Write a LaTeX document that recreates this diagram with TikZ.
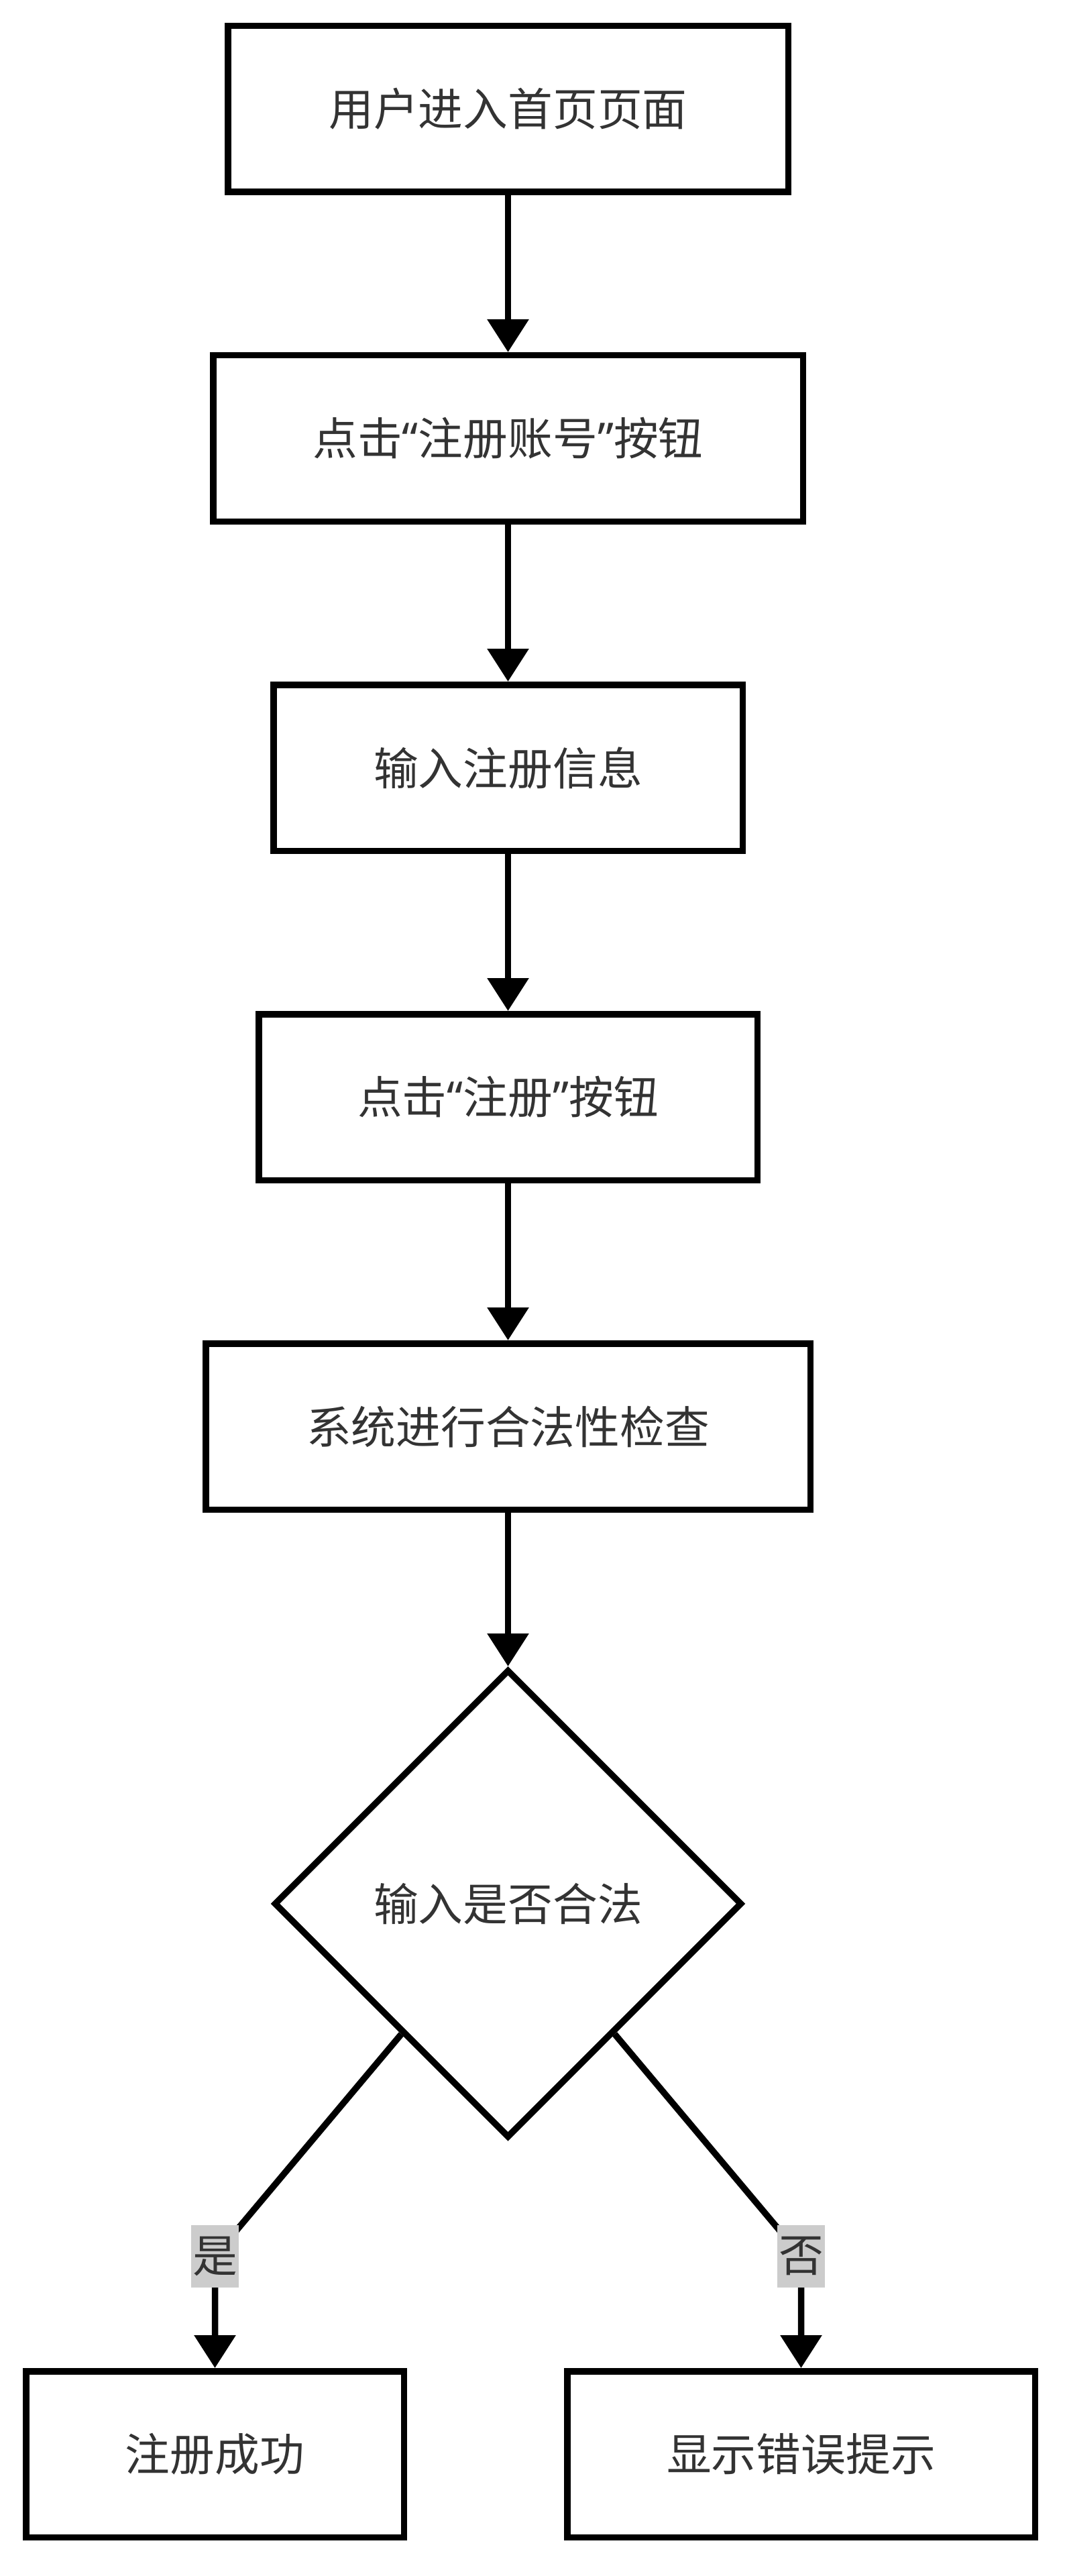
\documentclass[tikz,border=0pt]{standalone}
\usepackage{fontspec}
\setmainfont{Noto Sans CJK SC}
\newfontfamily\quotefont{Noto Sans}
\newcommand{\zhlq}{{\quotefont “}}
\newcommand{\zhrq}{{\quotefont ”}}
\usetikzlibrary{arrows.meta,positioning,shapes.geometric,calc}
\definecolor{txtgray}{HTML}{333333}
\definecolor{lblgray}{HTML}{CCCCCC}

\tikzset{
  stepbox/.style={draw, line width=0.095cm, minimum height=2.475cm, text=txtgray, font=\fontsize{19}{23}\selectfont},
  decbox/.style={draw, diamond, aspect=1, line width=0.095cm, minimum width=6.98cm, minimum height=6.98cm, text=txtgray, font=\fontsize{19}{23}\selectfont},
  flow/.style={line width=0.095cm, -{Triangle[width=0.6cm,length=0.49cm]}},
  lbl/.style={fill=lblgray, text=txtgray, inner xsep=0.02cm, inner ysep=0pt, minimum height=0.93cm, font=\fontsize{19}{23}\selectfont}
}

\begin{document}
\begin{tikzpicture}

        \useasboundingbox (0,0) rectangle (15.91,-38.40);

        % main column of steps
        \node[stepbox, minimum width=8.355cm] (home) at (7.575,-1.625) {用户进入首页页面};
        \node[stepbox, minimum width=8.795cm, below=2.34cm of home] (regbtn) {点击\zhlq 注册账号\zhrq 按钮};
        \node[stepbox, minimum width=6.995cm, below=2.34cm of regbtn] (input) {输入注册信息};
        \node[stepbox, minimum width=7.435cm, below=2.34cm of input] (submit) {点击\zhlq 注册\zhrq 按钮};
        \node[stepbox, minimum width=9.015cm, below=2.34cm of submit] (check) {系统进行合法性检查};

        % the decision
        \node[decbox, below=2.29cm of check] (valid) {输入是否合法};

        % the two outcomes
        \node[stepbox, minimum width=5.635cm] (ok) at (3.205,-36.585) {注册成功};
        \node[stepbox, minimum width=6.975cm] (err) at (11.945,-36.585) {显示错误提示};

        % connecting arrows
        \draw[flow] (home) -- (regbtn);
        \draw[flow] (regbtn) -- (input);
        \draw[flow] (input) -- (submit);
        \draw[flow] (submit) -- (check);
        \draw[flow] (check) -- (valid);

        % branches with their labels
        \coordinate (ys) at ($(valid.west)!0.55!(valid.south)$);
        \coordinate (ns) at ($(valid.east)!0.55!(valid.south)$);
        \coordinate (ybend) at ($(ok.north)+(0,1.67)$);
        \coordinate (nbend) at ($(err.north)+(0,1.67)$);
        \draw[flow, rounded corners=0.3cm] (ys) -- (ybend) -- (ok.north);
        \draw[flow, rounded corners=0.3cm] (ns) -- (nbend) -- (err.north);
        \node[lbl] (yes) at (ybend) {是};
        \node[lbl] (no) at (nbend) {否};

\end{tikzpicture}
\end{document}
